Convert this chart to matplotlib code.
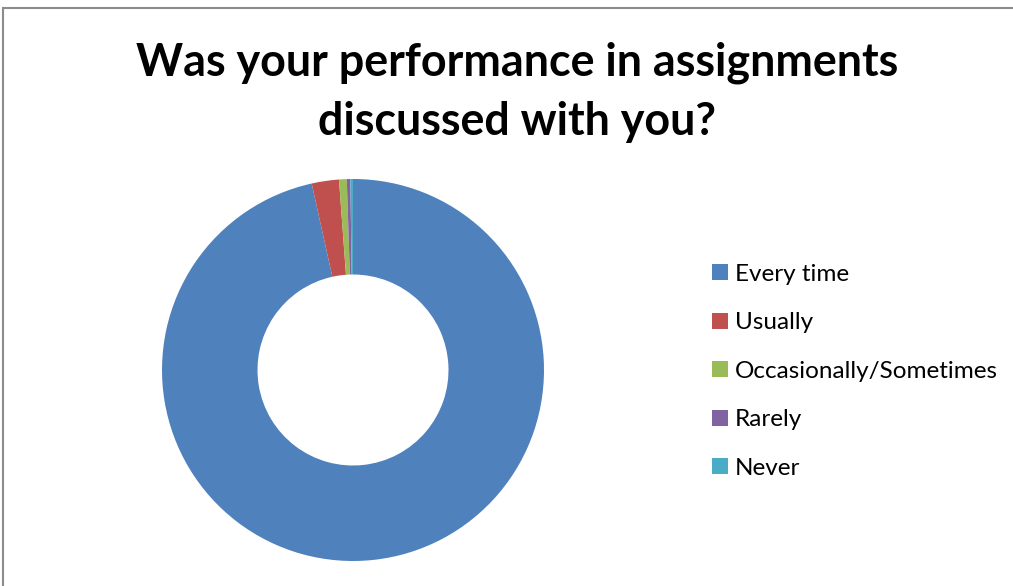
import matplotlib
matplotlib.use("Agg")
import matplotlib.pyplot as plt
from matplotlib.patches import Rectangle, Patch

categories = ["Every time", "Usually", "Occasionally/Sometimes", "Rarely", "Never"]
values = [96.5, 2.3, 0.65, 0.3, 0.22]
colors = ["#4F81BD", "#C0504D", "#9BBB59", "#8064A2", "#4BACC6"]
title = "Was your performance in assignments\ndiscussed with you?"

W, H = 1013, 586
fig = plt.figure(figsize=(W / 100, H / 100), dpi=100)
fig.patch.set_facecolor("white")

# chart border
fig.patches.append(Rectangle((3 / W, -0.1), 1.2, (H - 8) / H + 0.1, transform=fig.transFigure,
                             fill=False, edgecolor="#8c8c8c", linewidth=1.5))

cx, cy, r = 353, 370, 191
ax = fig.add_axes([(cx - r) / W, (H - cy - r) / H, 2 * r / W, 2 * r / H])
ax.pie(values, colors=colors, startangle=90, counterclock=False, radius=1,
       wedgeprops=dict(width=0.5, edgecolor="none"))
ax.set_xlim(-1, 1)
ax.set_ylim(-1, 1)
ax.set_aspect("equal")
ax.axis("off")

fig.text(517 / W, 1 - 92 / H, title, ha="center", va="center", fontsize=32.3,
         fontweight="bold", family=["Lato", "DejaVu Sans"], linespacing=1.5)

handles = [Patch(facecolor=c, edgecolor="none") for c in colors]
fig.legend(handles, categories, loc="upper left", bbox_to_anchor=(712 / W, 1 - 264 / H),
           frameon=False, prop=dict(family=["Lato", "DejaVu Sans"], size=17.5),
           handlelength=0.64, handleheight=0.64, handletextpad=0.3, labelspacing=1.13,
           borderpad=0, borderaxespad=0)

fig.savefig("out.png", dpi=100)
